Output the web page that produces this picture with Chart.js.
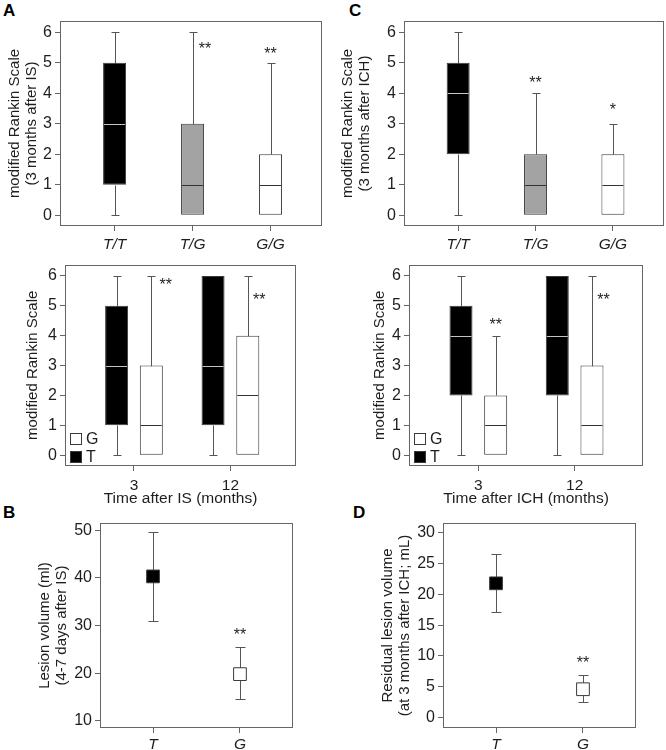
<!DOCTYPE html>
<html><head><meta charset="utf-8">
<script src="https://cdn.jsdelivr.net/npm/chart.js@4.4.1/dist/chart.umd.min.js"></script>
<style>
html,body{margin:0;padding:0;background:#fff;}
body{width:666px;height:750px;position:relative;overflow:hidden;}
canvas{position:absolute;}
.lbl{position:absolute;font:bold 17px "Liberation Sans",Arial,sans-serif;color:#000;line-height:17px;}
</style></head><body>
<div class="lbl" style="left:3px;top:2px">A</div>
<div class="lbl" style="left:349px;top:2px">C</div>
<div class="lbl" style="left:3px;top:504px">B</div>
<div class="lbl" style="left:353px;top:504px">D</div>
<canvas id="cA1" width="330" height="252" style="left:0;top:0"></canvas>
<canvas id="cA2" width="330" height="255" style="left:0;top:252px"></canvas>
<canvas id="cB" width="330" height="243" style="left:0;top:507px"></canvas>
<canvas id="cC1" width="333" height="252" style="left:333px;top:0"></canvas>
<canvas id="cC2" width="333" height="255" style="left:333px;top:252px"></canvas>
<canvas id="cD" width="333" height="243" style="left:333px;top:507px"></canvas>
<script>
// ---------- data ----------
const genotypes = ['T/T', 'T/G', 'G/G'];
const months = ['3', '12'];
const alleles = ['T', 'G'];
const rankinTicks = [0, 1, 2, 3, 4, 5, 6];

// A (top): mRS 3 months after IS by genotype
const isGenoMin = [0, 0, 0];
const isGenoQ1  = [1, 0, 0];
const isGenoMed = [3, 1, 1];
const isGenoQ3  = [5, 3, 2];
const isGenoMax = [6, 6, 5];

// A (bottom): mRS after IS by allele and time
const isTMin = [0, 0], isTQ1 = [1, 1], isTMed = [3, 3], isTQ3 = [5, 6], isTMax = [6, 6];
const isGMin = [0, 0], isGQ1 = [0, 0], isGMed = [1, 2], isGQ3 = [3, 4], isGMax = [6, 6];

// C (top): mRS 3 months after ICH by genotype
const ichGenoMin = [0, 0, 0];
const ichGenoQ1  = [2, 0, 0];
const ichGenoMed = [4, 1, 1];
const ichGenoQ3  = [5, 2, 2];
const ichGenoMax = [6, 4, 3];

// C (bottom): mRS after ICH by allele and time
const ichTMin = [0, 0], ichTQ1 = [2, 2], ichTMed = [4, 4], ichTQ3 = [5, 6], ichTMax = [6, 6];
const ichGMin = [0, 0], ichGQ1 = [0, 0], ichGMed = [1, 1], ichGQ3 = [2, 3], ichGMax = [4, 6];

// B: lesion volume (ml), 4-7 days after IS
const lesionMean = [40.3, 19.8];
const lesionLow  = [31.0, 14.6];
const lesionHigh = [49.7, 25.5];
const lesionTicks = [10, 20, 30, 40, 50];

// D: residual lesion volume (mL), 3 months after ICH
const residMean = [21.8, 4.6];
const residLow  = [17.1, 2.5];
const residHigh = [26.5, 6.9];
const residTicks = [0, 5, 10, 15, 20, 25, 30];

// significance marks (category coordinate, value)
const sigA1 = [{x: 1.16, y: 5.58, t: '**'}, {x: 2, y: 5.41, t: '**'}];
const sigA2 = [{x: 0.33, y: 5.82, t: '**'}, {x: 1.30, y: 5.30, t: '**'}];
const sigC1 = [{x: 1, y: 4.46, t: '**'}, {x: 2, y: 3.55, t: '*'}];
const sigC2 = [{x: 0.18, y: 4.48, t: '**'}, {x: 1.30, y: 5.30, t: '**'}];
const sigB  = [{x: 1, y: 28.7, t: '**'}];
const sigD  = [{x: 1, y: 9.4, t: '**'}];

// ---------- styling ----------
const FONT = '"Liberation Sans", Arial, Helvetica, sans-serif';
const TXT = '#1e1e1e';
const AX = '#666666';
const EDGE = '#3a3a3a';
const WHISK = '#555555';
const GENO_COLORS = ['#000000', '#a3a3a3', '#ffffff'];
const GENO_MED = ['#c4c4c4', '#333333', '#333333'];
const SHIFT = 0.18;

// ---------- plugins ----------
const framePlugin = {
  id: 'frame',
  afterDraw(chart) {
    const {ctx, chartArea: a} = chart;
    ctx.save();
    ctx.strokeStyle = AX; ctx.lineWidth = 1;
    ctx.strokeRect(Math.round(a.left) + 0.5, Math.round(a.top) + 0.5,
      Math.round(a.right - a.left) - 1, Math.round(a.bottom - a.top) - 1);
    ctx.restore();
  }
};

const boxPlugin = {
  id: 'boxExtras',
  beforeDatasetsDraw(chart) {
    const {ctx} = chart; const y = chart.scales.y;
    ctx.save(); ctx.strokeStyle = WHISK; ctx.lineWidth = 1;
    chart.data.datasets.forEach((ds, di) => {
      if (!ds.stats) return;
      chart.getDatasetMeta(di).data.forEach((el, i) => {
        const x = Math.round(el.x) + 0.5;
        const cap = 4;
        const seg = (v1, v2) => {
          const p1 = Math.round(y.getPixelForValue(v1)) + 0.5, p2 = Math.round(y.getPixelForValue(v2)) + 0.5;
          ctx.beginPath(); ctx.moveTo(x, p1); ctx.lineTo(x, p2); ctx.stroke();
          ctx.beginPath(); ctx.moveTo(x - cap, p2); ctx.lineTo(x + cap, p2); ctx.stroke();
        };
        if (ds.stats.max[i] > ds.data[i].y[1]) seg(ds.data[i].y[1], ds.stats.max[i]);
        if (ds.stats.min[i] < ds.data[i].y[0]) seg(ds.data[i].y[0], ds.stats.min[i]);
      });
    });
    ctx.restore();
  },
  afterDatasetsDraw(chart) {
    const {ctx} = chart; const y = chart.scales.y;
    ctx.save(); ctx.lineWidth = 1;
    chart.data.datasets.forEach((ds, di) => {
      if (!ds.stats) return;
      chart.getDatasetMeta(di).data.forEach((el, i) => {
        const hw = el.width / 2;
        const p = Math.round(y.getPixelForValue(ds.stats.med[i])) + 0.5;
        ctx.strokeStyle = Array.isArray(ds.medianColor) ? ds.medianColor[i] : ds.medianColor;
        ctx.beginPath(); ctx.moveTo(el.x - hw + 1, p); ctx.lineTo(el.x + hw - 1, p); ctx.stroke();
      });
    });
    ctx.restore();
  }
};

const errPlugin = {
  id: 'errBars',
  beforeDatasetsDraw(chart) {
    const {ctx} = chart; const y = chart.scales.y;
    ctx.save(); ctx.strokeStyle = WHISK; ctx.lineWidth = 1;
    chart.data.datasets.forEach((ds, di) => {
      if (!ds.low) return;
      chart.getDatasetMeta(di).data.forEach((el, i) => {
        const x = Math.round(el.x) + 0.5, cap = 5;
        const lo = Math.round(y.getPixelForValue(ds.low[i])) + 0.5;
        const hi = Math.round(y.getPixelForValue(ds.high[i])) + 0.5;
        ctx.beginPath(); ctx.moveTo(x, lo); ctx.lineTo(x, hi);
        ctx.moveTo(x - cap, lo); ctx.lineTo(x + cap, lo);
        ctx.moveTo(x - cap, hi); ctx.lineTo(x + cap, hi); ctx.stroke();
      });
    });
    ctx.restore();
  }
};

const sigPlugin = {
  id: 'sigMarks',
  afterDatasetsDraw(chart, args, opts) {
    const {ctx} = chart; const xs = chart.scales.x, ys = chart.scales.y;
    ctx.save(); ctx.fillStyle = TXT; ctx.font = '16px ' + FONT;
    ctx.textAlign = 'center'; ctx.textBaseline = 'middle';
    (opts.items || []).forEach(m => {
      ctx.fillText(m.t, xs.getPixelForValue(m.x), ys.getPixelForValue(m.y) + 4);
    });
    ctx.restore();
  }
};

const boxLegendPlugin = {
  id: 'boxLegend',
  afterDraw(chart, args, opts) {
    if (!opts.show) return;
    const {ctx, chartArea: a} = chart;
    const items = chart.data.datasets.map(d => ({t: d.label, c: d.backgroundColor})).reverse();
    ctx.save(); ctx.font = '16px ' + FONT; ctx.textBaseline = 'middle'; ctx.textAlign = 'left';
    items.forEach((it, k) => {
      const top = Math.round(a.bottom) - 15 - (items.length - 1 - k) * 18;
      ctx.fillStyle = it.c; ctx.fillRect(a.left + 5.5, top + 0.5, 11, 11);
      ctx.strokeStyle = EDGE; ctx.lineWidth = 1; ctx.strokeRect(a.left + 5.5, top + 0.5, 11, 11);
      ctx.fillStyle = TXT; ctx.fillText(it.t, a.left + 21, top + 7);
    });
    ctx.restore();
  }
};

// ---------- chart builder ----------
function scalesFor(c) {
  const gridX = {display: true, drawOnChartArea: false, drawTicks: true, tickLength: 5, color: AX, lineWidth: 1, offset: false};
  const gridY = {display: true, drawOnChartArea: false, drawTicks: true, tickLength: 5, color: AX, lineWidth: 1};
  return {
    x: {
      type: 'linear', min: c.xMin, max: c.xMax, offset: false,
      afterBuildTicks: s => { s.ticks = c.xLabels.map((_, i) => ({value: i})); },
      afterFit: s => { s.height = c.xH; },
      grid: gridX, border: {display: false},
      ticks: {autoSkip: false, maxRotation: 0, padding: c.xPad, color: TXT,
        font: {family: FONT, size: 15.5, style: c.xItalic ? 'italic' : 'normal'},
        callback: v => (c.xLabels[v] !== undefined ? c.xLabels[v] : '')},
      title: c.xTitle ? {display: true, text: c.xTitle, color: TXT,
        font: {family: FONT, size: 15.5, lineHeight: 17 / 15.5}, padding: {top: 0, bottom: 0}} : {display: false}
    },
    y: {
      type: 'linear', min: c.yMin, max: c.yMax,
      afterBuildTicks: s => { s.ticks = c.yTicks.map(v => ({value: v})); },
      afterFit: s => { s.width = c.yW; },
      grid: gridY, border: {display: false},
      ticks: {padding: 3, color: TXT, font: {family: FONT, size: 16}, callback: v => String(v)},
      title: {display: true, text: c.yTitle, color: TXT,
        font: {family: FONT, size: 15, lineHeight: 17 / 15}, padding: {top: c.yTitlePad, bottom: 0}}
    }
  };
}

function makeChart(id, c) {
  return new Chart(document.getElementById(id), {
    type: c.type,
    data: {datasets: c.datasets},
    options: {
      responsive: false, animation: false, devicePixelRatio: 1,
      layout: {padding: {top: c.padTop, right: c.padRight, left: 0, bottom: 0}},
      datasets: {bar: {grouped: false, maxBarThickness: 23, categoryPercentage: 0.8, barPercentage: 0.9}},
      scales: scalesFor(c),
      plugins: {
        legend: {display: false}, tooltip: {enabled: false},
        sigMarks: {items: c.sig}, boxLegend: {show: !!c.legend}
      }
    },
    plugins: [framePlugin, boxPlugin, errPlugin, sigPlugin, boxLegendPlugin]
  });
}

function boxSet(label, mins, q1, med, q3, maxs, fill, medColor, shift) {
  return {
    label, backgroundColor: fill, borderColor: EDGE, borderWidth: 1, borderSkipped: false,
    data: q1.map((v, i) => ({x: i + shift, y: [v, q3[i]]})),
    stats: {min: mins, med: med, max: maxs}, medianColor: medColor
  };
}

function pointSet(mean, low, high) {
  return {
    label: 'mean', data: mean.map((v, i) => ({x: i, y: v})), low, high,
    pointStyle: 'rect', pointRadius: 9, pointHoverRadius: 9,
    pointBackgroundColor: ['#000000', '#ffffff'], pointBorderColor: EDGE, pointBorderWidth: 1
  };
}

// A top
makeChart('cA1', {
  type: 'bar', yW: 60, padTop: 21, padRight: 8, xH: 26, xPad: 4,
  xMin: -0.7, xMax: 2.66, xLabels: genotypes, xItalic: true,
  yMin: -0.35, yMax: 6.37, yTicks: rankinTicks,
  yTitle: ['modified Rankin Scale', '(3 months after IS)'], yTitlePad: 6.5,
  datasets: [boxSet('genotype', isGenoMin, isGenoQ1, isGenoMed, isGenoQ3, isGenoMax, GENO_COLORS, GENO_MED, 0)],
  sig: sigA1
});
// A bottom
makeChart('cA2', {
  type: 'bar', yW: 65, padTop: 8, padRight: 34, xH: 41, xPad: 5,
  xMin: -0.715, xMax: 1.68, xLabels: months, xItalic: false, xTitle: 'Time after IS (months)',
  yMin: -0.36, yMax: 6.38, yTicks: rankinTicks,
  yTitle: 'modified Rankin Scale', yTitlePad: 24.5,
  datasets: [
    boxSet('T', isTMin, isTQ1, isTMed, isTQ3, isTMax, '#000000', '#c4c4c4', -SHIFT),
    boxSet('G', isGMin, isGQ1, isGMed, isGQ3, isGMax, '#ffffff', '#333333', SHIFT)
  ],
  sig: sigA2, legend: true
});
// B
makeChart('cB', {
  type: 'scatter', yW: 100, padTop: 16, padRight: 37, xH: 22, xPad: 2,
  xMin: -0.61, xMax: 1.61, xLabels: alleles, xItalic: true,
  yMin: 8.5, yMax: 51.5, yTicks: lesionTicks,
  yTitle: ['Lesion volume (ml)', '(4-7 days after IS)'], yTitlePad: 36.5,
  datasets: [pointSet(lesionMean, lesionLow, lesionHigh)],
  sig: sigB
});
// C top
makeChart('cC1', {
  type: 'bar', yW: 71, padTop: 21, padRight: 2, xH: 26, xPad: 4,
  xMin: -0.7, xMax: 2.66, xLabels: genotypes, xItalic: true,
  yMin: -0.35, yMax: 6.37, yTicks: rankinTicks,
  yTitle: ['modified Rankin Scale', '(3 months after ICH)'], yTitlePad: 6.5,
  datasets: [boxSet('genotype', ichGenoMin, ichGenoQ1, ichGenoMed, ichGenoQ3, ichGenoMax, GENO_COLORS, GENO_MED, 0)],
  sig: sigC1
});
// C bottom
makeChart('cC2', {
  type: 'bar', yW: 76, padTop: 8, padRight: 23, xH: 41, xPad: 5,
  xMin: -0.72, xMax: 1.71, xLabels: months, xItalic: false, xTitle: 'Time after ICH (months)',
  yMin: -0.36, yMax: 6.38, yTicks: rankinTicks,
  yTitle: 'modified Rankin Scale', yTitlePad: 38.5,
  datasets: [
    boxSet('T', ichTMin, ichTQ1, ichTMed, ichTQ3, ichTMax, '#000000', '#c4c4c4', -SHIFT),
    boxSet('G', ichGMin, ichGQ1, ichGMed, ichGQ3, ichGMax, '#ffffff', '#333333', SHIFT)
  ],
  sig: sigC2, legend: true
});
// D
makeChart('cD', {
  type: 'scatter', yW: 110, padTop: 16, padRight: 30, xH: 22, xPad: 2,
  xMin: -0.61, xMax: 1.61, xLabels: alleles, xItalic: true,
  yMin: -1.7, yMax: 31.6, yTicks: residTicks,
  yTitle: ['Residual lesion volume', '(at 3 months after ICH; mL)'], yTitlePad: 46.5,
  datasets: [pointSet(residMean, residLow, residHigh)],
  sig: sigD
});
</script>
</body></html>
